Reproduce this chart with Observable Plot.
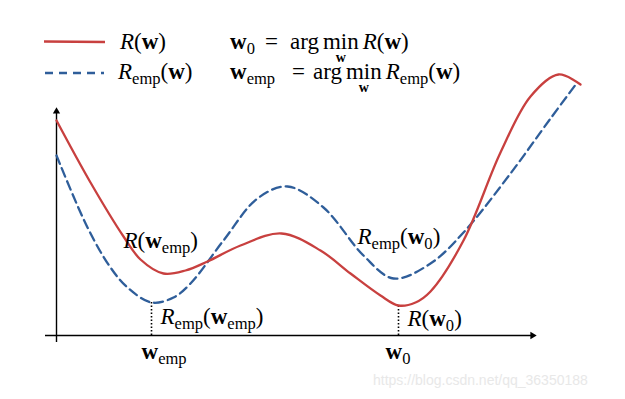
<!DOCTYPE html>
<html><head><meta charset="utf-8">
<script src="https://cdn.jsdelivr.net/npm/d3@7"></script>
<script src="https://cdn.jsdelivr.net/npm/@observablehq/plot@0.6"></script>
<style>
html,body{margin:0;padding:0;background:#fff;}
#wrap{position:relative;width:625px;height:399px;overflow:hidden;}
#wrap svg{position:absolute;left:0;top:0;}
</style></head><body><div id="wrap"></div>
<script>
// ---- data (arbitrary units) ----
const rX = [0,0.68,1.34,1.68,2.14,2.58,3.02,3.68,4.50,5.28,5.88,6.48,6.84,7.18,7.48,8.14,8.88,9.48,10.04,10.48];
const rY = [4.30,3.06,1.98,1.52,1.24,1.30,1.48,1.80,2.04,1.70,1.24,0.80,0.60,0.66,0.88,1.90,3.66,4.78,5.22,5.02];
const eX = [0,0.62,1.08,1.42,1.90,2.34,2.68,3.34,4.02,4.62,5.34,6.14,6.74,7.48,8.14,9.08,9.88,10.40];
const eY = [3.60,2.16,1.36,0.96,0.66,0.76,1.04,1.90,2.74,2.98,2.56,1.60,1.14,1.44,2.06,3.24,4.34,5.04];
const wEmp = 1.90, w0 = 6.84;
const minX = [wEmp, w0];
const minY = [0.66, 0.60];            // R_emp(w_emp), R(w_0)
const otherY = [1.35, 1.14];          // R(w_emp), R_emp(w_0)
const tickLabels = ["w_{emp}", "w_{0}"];
const pointLabels = ["R(w_{emp})", "R_{emp}(w_{emp})", "R_{emp}(w_{0})", "R(w_{0})"];
const legendNames = ["R(w)", "R_{emp}(w)"];
const legendDefs = [["w_{0}", "=", "arg", "min", "R(w)"], ["w_{emp}", "=", "arg", "min", "R_{emp}(w)"]];
const xAxisExt = [-0.22, 9.52], yAxisExt = [-0.14, 4.48];
const watermark = "https://blog.csdn.net/qq_36350188";

// ---- styles ----
const RED = "#c8403f", BLUE = "#2f5e9a", FONT = "Liberation Serif", FS = 23;

const red = rX.map((x, i) => ({x, y: rY[i]}));
const emp = eX.map((x, i) => ({x, y: eY[i]}));
const mins = minX.map((x, i) => ({x, y: minY[i]}));

const txt = (d, t, dx, dy) => Plot.text([d], {x: "x", y: "y", text: () => t, dx, dy,
  textAnchor: "start", lineAnchor: "bottom", fontFamily: FONT, fontSize: FS, fill: "black"});

const chart = Plot.plot({
  width: 625, height: 399,
  marginLeft: 56, marginRight: 69, marginTop: 85, marginBottom: 64,
  x: {domain: [0, 10], axis: null},
  y: {domain: [0, 5], axis: null},
  style: {background: "transparent", overflow: "visible"},
  marks: [
    Plot.ruleY([0], {x1: xAxisExt[0], x2: xAxisExt[1], stroke: "black", strokeWidth: 1.4}),
    Plot.ruleX([0], {y1: yAxisExt[0], y2: yAxisExt[1], stroke: "black", strokeWidth: 1.4}),
    Plot.dot([{x: xAxisExt[1], y: 0}], {x: "x", y: "y", symbol: "triangle", r: 2.7, fill: "black", stroke: "none", rotate: 90}),
    Plot.dot([{x: 0, y: yAxisExt[1]}], {x: "x", y: "y", symbol: "triangle", r: 2.7, fill: "black", stroke: "none"}),
    Plot.ruleX(mins, {x: "x", y1: 0, y2: "y", stroke: "black", strokeWidth: 1.6, strokeDasharray: "1.5,2"}),
    Plot.line(emp, {x: "x", y: "y", curve: "catmull-rom", stroke: BLUE, strokeWidth: 2.3, strokeDasharray: "9,5"}),
    Plot.line(red, {x: "x", y: "y", curve: "catmull-rom", stroke: RED, strokeWidth: 2.3}),
    txt({x: wEmp, y: otherY[0]}, pointLabels[0], -28, -20),
    txt({x: wEmp, y: minY[0]}, pointLabels[1], 9, 21),
    txt({x: w0, y: otherY[1]}, pointLabels[2], -41, -35),
    txt({x: w0, y: minY[1]}, pointLabels[3], 9, 20),
    txt({x: wEmp, y: 0}, tickLabels[0], -10, 23),
    txt({x: w0, y: 0}, tickLabels[1], -13, 23)
  ]
});
document.getElementById("wrap").append(chart);

// ---- tiny math typesetter ----
function segs(s) {
  const out = [];
  for (let i = 0; i < s.length; i++) {
    const c = s[i];
    if (c === "_") { const j = s.indexOf("}", i); out.push({t: s.slice(i + 2, j), k: "sub"}); i = j; }
    else if (c === "R") out.push({t: c, k: "it"});
    else if (c === "w") out.push({t: c, k: "bf"});
    else out.push({t: c, k: "rm"});
  }
  return out;
}
function setMath(node, s, size) {
  const t = d3.select(node);
  t.text(null).style("white-space", "pre");
  const sh = Math.round(size * 0.22);
  let down = false;
  for (const g of segs(s)) {
    const ts = t.append("tspan").text(g.t);
    if (g.k === "sub") {
      ts.attr("font-size", size * 0.72);
      if (!down) { ts.attr("dy", sh); down = true; }
    } else {
      if (down) { ts.attr("dy", -sh); down = false; }
      if (g.k === "it") ts.attr("font-style", "italic");
      if (g.k === "bf") ts.attr("font-weight", "bold");
    }
  }
}
chart.querySelectorAll('g[aria-label="text"] text').forEach(n => setMath(n, n.textContent, FS));

// ---- legend overlay ----
const ov = d3.select("#wrap").append("svg").attr("width", 625).attr("height", 399)
  .attr("font-family", FONT).attr("font-size", FS);
ov.append("line").attr("x1", 44).attr("x2", 105).attr("y1", 41.5).attr("y2", 42)
  .attr("stroke", RED).attr("stroke-width", 2.3);
ov.append("line").attr("x1", 45).attr("x2", 104).attr("y1", 73).attr("y2", 73)
  .attr("stroke", BLUE).attr("stroke-width", 2.3).attr("stroke-dasharray", "8,6");
const rowBase = [49, 79];
const nameX = [120, 118];
const defX = [[230, 265, 290, 320, 356], [230, 292, 313, 345, 378]];
function mathText(x, y, s, size, anchor) {
  const t = ov.append("text").attr("x", x).attr("y", y).attr("font-size", size).attr("text-anchor", anchor || "start");
  setMath(t.node(), s, size);
  return t;
}
legendNames.forEach((nm, r) => {
  mathText(nameX[r], rowBase[r], nm, FS);
  let prevEnd = 0;
  legendDefs[r].forEach((p, k) => {
    const x = Math.max(defX[r][k], prevEnd + 4);
    const t = mathText(x, rowBase[r], p, FS);
    const w = t.node().getComputedTextLength();
    if (p === "min") mathText(x + w / 2, rowBase[r] + 13, "w", 14, "middle");
    prevEnd = x + w;
  });
});
ov.append("text").attr("x", 373).attr("y", 385).attr("font-family", "Liberation Sans")
  .attr("font-size", 14).attr("fill", "#e8e8e8").text(watermark);
</script></body></html>
